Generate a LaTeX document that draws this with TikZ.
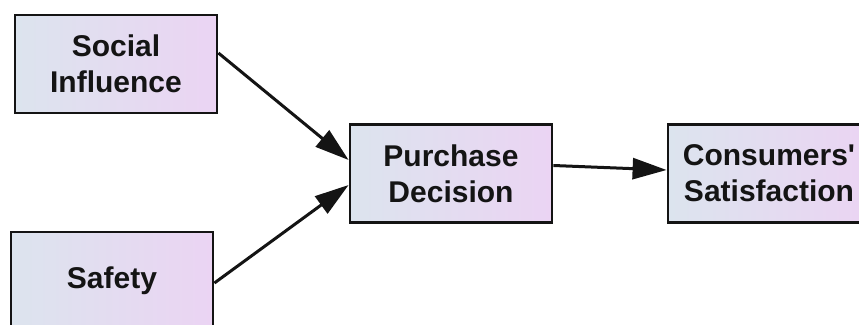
\documentclass[tikz,border=0pt]{standalone}
\usepackage{fontspec}
\newfontfamily\lsans{Liberation Sans}
\usetikzlibrary{arrows.meta}
\definecolor{boxleft}{HTML}{DCE4EE}
\definecolor{boxright}{HTML}{EBD4F3}
\definecolor{ink}{HTML}{141414}
\tikzset{
  factor/.style={draw=ink, line width=2.8pt, left color=boxleft, right color=boxright,
    minimum width=202pt, minimum height=98pt, inner sep=0pt, align=center,
    text=ink, font=\lsans\fontsize{30}{36}\selectfont\bfseries},
  link/.style={draw=ink, line width=3pt, -{Triangle[length=34pt,width=21pt]}}
}
\begin{document}
\begin{tikzpicture}[x=1pt,y=1pt]
\useasboundingbox (0,0) rectangle (859,324);
\clip (0,0) rectangle (859,324);
\node[factor] (soc) at (116,260) {Social\\Influence};
\node[factor] (saf) at (112,43) {Safety};
\node[factor] (pd) at (451,150.5) {Purchase\\Decision};
\node[factor] (cs) at (769,150.5) {Consumers'\\Satisfaction};
\draw[link] ([yshift=11pt]soc.east) -- ([yshift=13.5pt]pd.west);
\draw[link] ([yshift=-2pt]saf.east) -- ([yshift=-11.5pt]pd.west);
\draw[link] ([yshift=8pt]pd.east) -- ([yshift=3.5pt]cs.west);
\end{tikzpicture}
\end{document}
